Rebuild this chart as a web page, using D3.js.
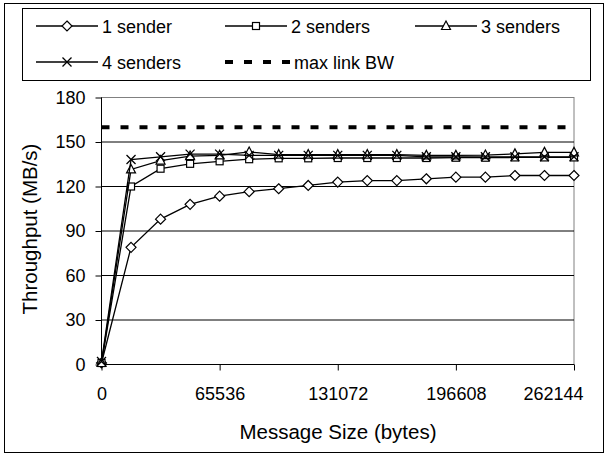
<!DOCTYPE html>
<html><head><meta charset="utf-8">
<script src="https://cdn.jsdelivr.net/npm/d3@7"></script>
<style>body{margin:0;background:#fff}svg{display:block;font-family:"Liberation Sans",Arial,sans-serif}</style>
</head><body>
<script>
const messageSizes = [0,16384,32768,49152,65536,81920,98304,114688,131072,147456,163840,180224,196608,212992,229376,245760,262144];
const sender1 = [1,79,98,108,113.5,116.5,118.5,120.7,123,124,124,125.2,126.3,126.3,127.4,127.4,127.4];
const sender2 = [1,120,132,135.3,137,138.4,139,139,139.2,139.2,139.2,139.2,139.4,139.4,139.6,139.6,139.6];
const sender3 = [1,131.5,137.5,140.5,141,143.3,141.5,141.5,141.5,141.5,141.5,141,141,141.2,142,143,143];
const sender4 = [2,138.2,140,141.8,141.8,141,141,141,141,141,141,140,140,140,140,140,140];
const maxLinkBW = 160;
const xTicks = [0,65536,131072,196608,262144];
const yTicks = [0,30,60,90,120,150,180];
const seriesNames = ["1 sender","2 senders","3 senders","4 senders"];
const seriesMarkers = ["diamond","square","triangle","cross"];
const bwLabel = "max link BW";

const W=608,H=457;
const FF="Liberation Sans, Arial, sans-serif";
const svg=d3.select("body").append("svg").attr("width",W).attr("height",H);
svg.append("rect").attr("x",4.5).attr("y",3.5).attr("width",599).attr("height",449).attr("fill","#fff").attr("stroke","#000");

const x=d3.scaleLinear().domain([0,262144]).range([101.5,574]);
const y=d3.scaleLinear().domain([0,180]).range([364.5,97.5]);

svg.append("rect").attr("x",101.5).attr("y",97.5).attr("width",574-101.5).attr("height",364.5-97.5)
  .attr("fill","none").attr("stroke","#808080");
svg.append("g").selectAll("line").data(yTicks.filter(d=>d>0&&d<180)).join("line")
  .attr("x1",101.5).attr("x2",574).attr("y1",d=>y(d)).attr("y2",d=>y(d)).attr("stroke","#000");

const yAxis=d3.axisLeft(y).tickValues(yTicks).tickSize(6).tickPadding(10);
const gy=svg.append("g").attr("transform","translate(101.5,0)").call(yAxis);
gy.select(".domain").attr("stroke","#000").attr("d",`M0,${y(180)}V${y(0)}`);
gy.selectAll("text").attr("font-size",18).attr("font-family",FF).attr("fill","#000");
const xAxis=d3.axisBottom(x).tickValues(xTicks).tickSize(6).tickPadding(17).tickFormat(d=>String(d));
const gx=svg.append("g").attr("transform",`translate(0,${y(0)})`).call(xAxis);
gx.select(".domain").attr("d",`M${x(0)},0H${x(262144)}`).attr("stroke","#000");
gx.selectAll("text").attr("font-size",18).attr("font-family",FF).attr("fill","#000");
// last label is kept inside the chart border (as in the reference)
gx.selectAll(".tick").filter(d=>d===262144).select("text").attr("text-anchor","end").attr("x",9);

svg.append("text").attr("x",338).attr("y",439).attr("text-anchor","middle").attr("font-size",20.5).text("Message Size (bytes)");
svg.append("text").attr("transform","translate(37,229) rotate(-90)").attr("text-anchor","middle").attr("font-size",20.5).text("Throughput (MB/s)");

svg.append("line").attr("x1",x(0)).attr("x2",x(262144)).attr("y1",y(maxLinkBW)).attr("y2",y(maxLinkBW))
  .attr("stroke","#000").attr("stroke-width",4).attr("stroke-dasharray","8,11");

function marker(g,type,cx,cy){
  if(type==="diamond"){
    g.append("path").attr("d",`M${cx},${cy-5}L${cx+5},${cy}L${cx},${cy+5}L${cx-5},${cy}Z`).attr("fill","#fff").attr("stroke","#000").attr("stroke-width",1.2);
  } else if(type==="square"){
    g.append("rect").attr("x",cx-3.5).attr("y",cy-3.5).attr("width",7).attr("height",7).attr("fill","#fff").attr("stroke","#000").attr("stroke-width",1.2);
  } else if(type==="triangle"){
    g.append("path").attr("d",`M${cx},${cy-5}L${cx+4.5},${cy+3.5}L${cx-4.5},${cy+3.5}Z`).attr("fill","#fff").attr("stroke","#000").attr("stroke-width",1.2);
  } else {
    g.append("path").attr("d",`M${cx-4.5},${cy-4.5}L${cx+4.5},${cy+4.5}M${cx+4.5},${cy-4.5}L${cx-4.5},${cy+4.5}`).attr("stroke","#000").attr("stroke-width",1.3);
  }
}

const allSeries=[sender1,sender2,sender3,sender4];
const line=d3.line().x((d,i)=>x(messageSizes[i])).y(d=>y(d));
allSeries.forEach((s,k)=>{
  const g=svg.append("g");
  g.append("path").datum(s).attr("d",line).attr("fill","none").attr("stroke","#000").attr("stroke-width",1.3);
  s.forEach((v,i)=>marker(g,seriesMarkers[k],x(messageSizes[i]),y(v)));
});

svg.append("rect").attr("x",22.5).attr("y",8.5).attr("width",568).attr("height",72).attr("fill","#fff").attr("stroke","#000");
const legPos=[[36,26],[225,26],[415,26],[36,62]];
seriesNames.forEach((n,k)=>{
  const [lx,ly]=legPos[k];
  const g=svg.append("g");
  g.append("line").attr("x1",lx).attr("x2",lx+62).attr("y1",ly).attr("y2",ly).attr("stroke","#000").attr("stroke-width",1.3);
  marker(g,seriesMarkers[k],lx+31,ly);
  g.append("text").attr("x",lx+66).attr("y",ly+6.5).attr("font-size",18).text(n);
});
svg.append("line").attr("x1",225).attr("x2",291).attr("y1",62).attr("y2",62).attr("stroke","#000").attr("stroke-width",4).attr("stroke-dasharray","8,11");
svg.append("text").attr("x",294).attr("y",68.5).attr("font-size",18).text(bwLabel);
</script>
</body></html>
